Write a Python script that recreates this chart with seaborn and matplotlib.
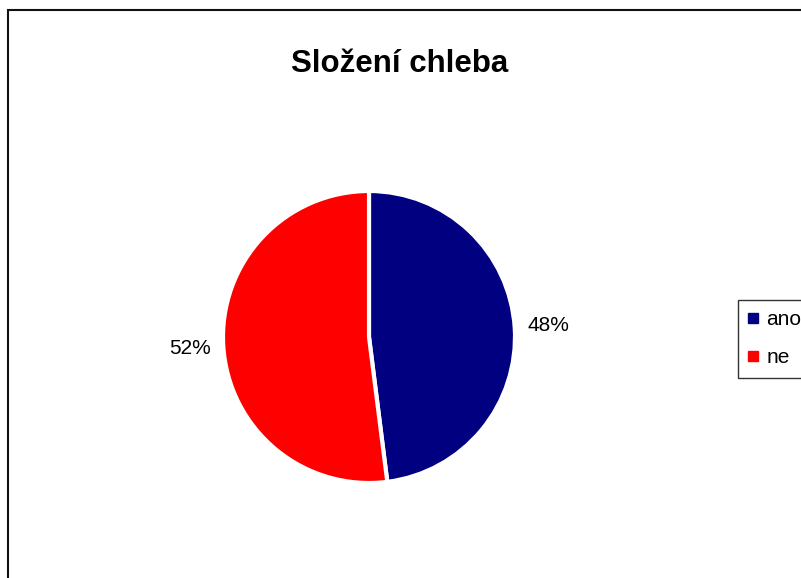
import matplotlib
matplotlib.use("Agg")
import matplotlib.pyplot as plt
import matplotlib.patches as mpatches
from matplotlib.lines import Line2D
import seaborn as sns

sns.set_style("white")
plt.rcParams["font.family"] = ["Liberation Sans", "DejaVu Sans"]
plt.rcParams["text.color"] = "black"

# Data
categories = ["ano", "ne"]
shares = [48, 52]
colors = ["#000080", "#FF0000"]
title = "Složení chleba"

W, H = 801, 578
fig = plt.figure(figsize=(W / 100, H / 100), dpi=100)
fig.patch.set_facecolor("white")

# outer chart frame (extends past the right and bottom edges)
frame = mpatches.Rectangle((8 / W, -0.2), 1.2, 1 - 10 / H + 0.2,
                           transform=fig.transFigure, fill=False,
                           edgecolor="#111111", linewidth=1.5, clip_on=False)
fig.patches.append(frame)

# pie axes: centre (369, 337) px, radius 146 px
cx, cy, r = 369, 337, 146
ax = fig.add_axes([(cx - r) / W, (H - cy - r) / H, 2 * r / W, 2 * r / H])
wedges, _, autotexts = ax.pie(
    shares, colors=colors, startangle=90, counterclock=False,
    autopct=lambda p: f"{p:.0f}%", pctdistance=1.23,
    wedgeprops=dict(edgecolor="white", linewidth=3.0),
    textprops=dict(fontsize=15, color="black"),
)
ax.set_xlim(-1, 1)
ax.set_ylim(-1, 1)
ax.set_axis_off()

fig.text(400 / W, 1 - 64 / H, title, ha="center", va="center",
         fontsize=22.5, fontweight="bold", color="black")

handles = [Line2D([], [], linestyle="none", marker="s", markersize=6.5,
                  markerfacecolor=c, markeredgecolor=c) for c in colors]
leg = fig.legend(handles, categories, loc="upper left",
                 bbox_to_anchor=(738 / W, 1 - 300 / H),
                 bbox_transform=fig.transFigure, borderaxespad=0,
                 fontsize=15, frameon=True, fancybox=False, shadow=False,
                 handlelength=0.45, handletextpad=0.4, borderpad=0.5,
                 labelspacing=0.9)
leg.get_frame().set_edgecolor("black")
leg.get_frame().set_linewidth(1.0)
for t in leg.get_texts():
    t.set_color("black")

fig.savefig("out.png", dpi=100, facecolor="white")
